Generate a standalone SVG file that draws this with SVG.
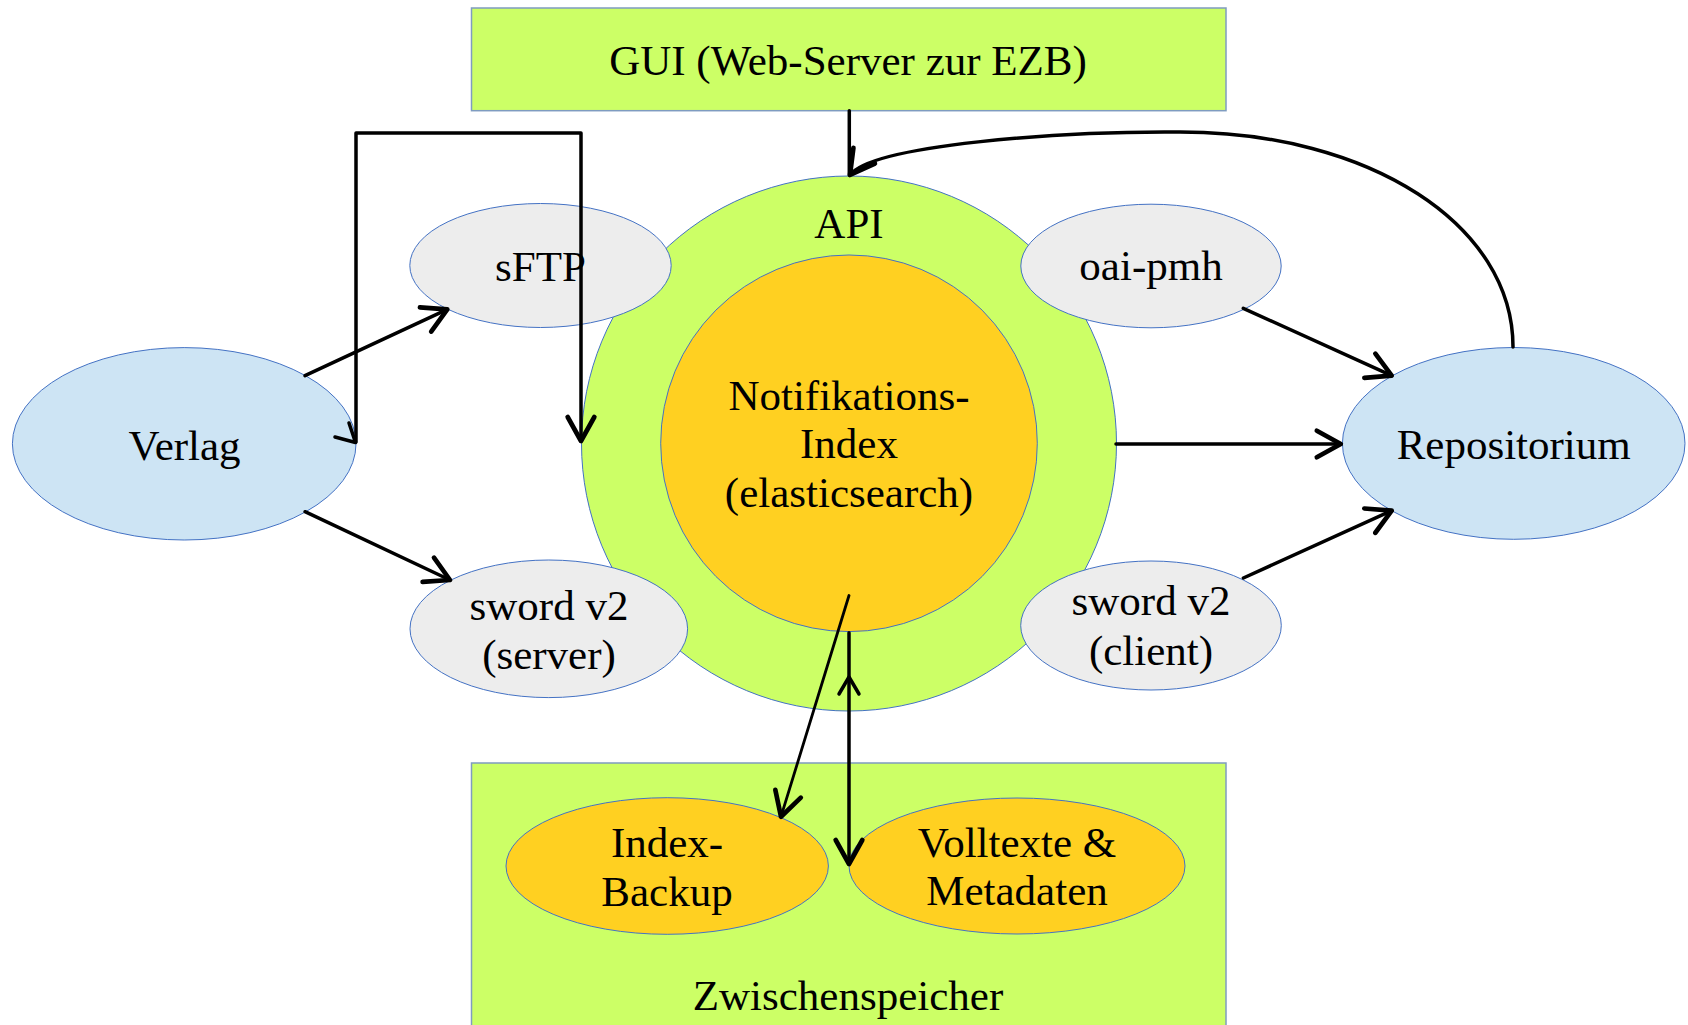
<svg xmlns="http://www.w3.org/2000/svg" width="1688" height="1025" viewBox="0 0 1688 1025">
<style>
text{font-family:"Liberation Serif","Times New Roman",serif;font-size:43px;fill:#000;text-anchor:middle}
.box{fill:#CCFF66;stroke:#7F9CC0;stroke-width:1.5}
.ol{stroke:#4472C4;stroke-width:1}
.green{fill:#CCFF66}
.yellow{fill:#FFD021}
.grey{fill:#EDEDED}
.blue{fill:#CDE4F4}
.c{fill:none;stroke:#000;stroke-width:3.5;stroke-linecap:round;stroke-linejoin:round}
.thin{stroke-width:2.8}
</style>
<defs>
<marker id="arr" markerUnits="userSpaceOnUse" markerWidth="40" markerHeight="40" refX="0" refY="0" viewBox="-25 -15 30 30" orient="auto" overflow="visible">
<path d="M-18,-10 L0,0 L-18,10" fill="none" stroke="#000" stroke-width="3.5" stroke-linecap="round" stroke-linejoin="round"/>
</marker>
</defs>
<rect width="1688" height="1025" fill="#fff"/>

<g id="gui">
<rect class="box" x="471.5" y="8" width="754.5" height="102.7"/>
<text x="848" y="75">GUI (Web-Server zur EZB)</text>
</g>

<g id="zwischenspeicher">
<rect class="box" x="471.5" y="763" width="754.5" height="290"/>
<text x="848" y="1010">Zwischenspeicher</text>
</g>

<g id="api">
<circle class="green ol" cx="849" cy="443.5" r="267.5"/>
<text x="849" y="238">API</text>
</g>

<g id="sftp">
<ellipse class="grey ol" cx="540.5" cy="265.5" rx="130.7" ry="62"/>
<text x="540.5" y="281">sFTP</text>
</g>

<g id="oai-pmh">
<ellipse class="grey ol" cx="1151" cy="266" rx="130.2" ry="61.8"/>
<text x="1151" y="280">oai-pmh</text>
</g>

<g id="sword-server">
<ellipse class="grey ol" cx="548.8" cy="628.8" rx="138.8" ry="68.8"/>
<text x="549" y="620">sword v2</text>
<text x="549" y="669">(server)</text>
</g>

<g id="sword-client">
<ellipse class="grey ol" cx="1151" cy="625.5" rx="130.3" ry="64.5"/>
<text x="1151" y="615">sword v2</text>
<text x="1151" y="665">(client)</text>
</g>

<g id="index">
<circle class="yellow ol" cx="849" cy="443.3" r="188.3"/>
<text x="849" y="410">Notifikations-</text>
<text x="849" y="458">Index</text>
<text x="849" y="507">(elasticsearch)</text>
</g>

<g id="verlag">
<ellipse class="blue ol" cx="184.2" cy="443.8" rx="171.8" ry="96.2"/>
<text x="184.5" y="460">Verlag</text>
</g>

<g id="repositorium">
<ellipse class="blue ol" cx="1513.7" cy="443.4" rx="171.3" ry="95.9"/>
<text x="1513.7" y="459">Repositorium</text>
</g>

<g id="index-backup">
<ellipse class="yellow ol" cx="667.2" cy="866" rx="161.2" ry="68.3"/>
<text x="667" y="857">Index-</text>
<text x="667" y="906">Backup</text>
</g>

<g id="volltexte">
<ellipse class="yellow ol" cx="1017" cy="866" rx="168" ry="68"/>
<text x="1017" y="857">Volltexte &amp;</text>
<text x="1017" y="905">Metadaten</text>
</g>

<g id="connectors">
<path class="c" d="M356,442 L356,133 L581,133 L581,441" marker-end="url(#arr)"/>
<path class="c" d="M335,437 L355.5,442.5 L349,423"/>
<path class="c" d="M305,375.7 L447.3,309.3" marker-end="url(#arr)"/>
<path class="c" d="M305,511.7 L450,580" marker-end="url(#arr)"/>
<path class="c" d="M849.3,110.7 L849.3,175"/>
<path class="c" d="M1513,347 C1513,225 1370,132 1180,132 C1060,131 872,145 850,175" marker-end="url(#arr)"/>
<path class="c" d="M1243.3,308.3 L1391.7,375.7" marker-end="url(#arr)"/>
<path class="c" d="M1243.4,578 L1391.7,510.7" marker-end="url(#arr)"/>
<path class="c" d="M1116,444 L1340.8,444" marker-end="url(#arr)"/>
<path class="c thin" d="M849,595.5 L781,816.7" marker-end="url(#arr)"/>
<path class="c" d="M849,632.7 L849,864" marker-end="url(#arr)"/>
<path class="c" d="M839,694 L849,677 L859,694"/>
</g>
</svg>
